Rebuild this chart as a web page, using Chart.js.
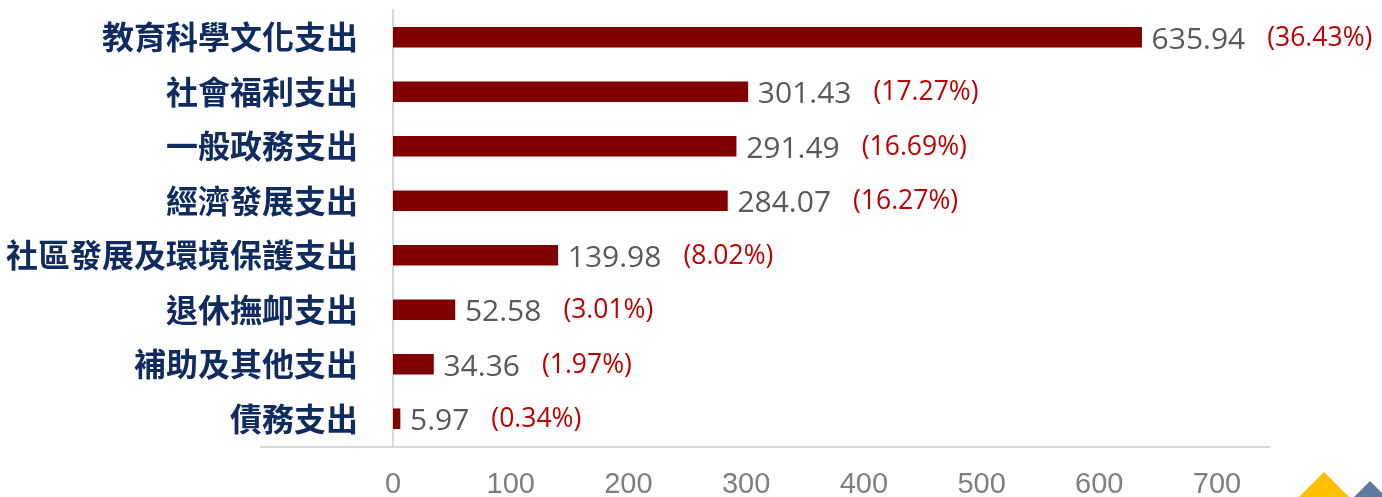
<!DOCTYPE html>
<html>
<head>
<meta charset="utf-8">
<script src="https://cdn.jsdelivr.net/npm/chart.js@4"></script>
<style>
    body { margin: 0; background: #fff; }
    canvas { display: block; }
</style>
</head>
<body>
<canvas id="diagram" width="1382" height="497"></canvas>
<script>
const categories = ["教育科學文化支出", "社會福利支出", "一般政務支出", "經濟發展支出",
    "社區發展及環境保護支出", "退休撫卹支出", "補助及其他支出", "債務支出"];
const values = [635.94, 301.43, 291.49, 284.07, 139.98, 52.58, 34.36, 5.97];
const shares = ["36.43%", "17.27%", "16.69%", "16.27%", "8.02%", "3.01%", "1.97%", "0.34%"];
const axisMax = 700;

(
    function () {
        // value + share text to the right of each bar
        const barLabels = {
            id: 'barLabels',
            afterDatasetsDraw(chart) {
                const ctx = chart.ctx;
                const meta = chart.getDatasetMeta(0);
                ctx.save();
                ctx.textBaseline = 'middle';
                ctx.textAlign = 'left';
                meta.data.forEach((bar, i) => {
                    const txt = values[i].toFixed(2);
                    ctx.font = '30px "Open Sans"';
                    ctx.fillStyle = '#595959';
                    const x = bar.x + 10;
                    const y = bar.y + 3;
                    ctx.fillText(txt, x, y);
                    const w = ctx.measureText(txt).width;
                    ctx.font = '26.5px "Open Sans"';
                    ctx.fillStyle = '#c00000';
                    ctx.fillText('(' + shares[i] + ')', x + w + 22, y - 2);
                });
                ctx.restore();
            }
        };

        // long baseline under the bars and the two corner triangles
        const decor = {
            id: 'decor',
            afterDraw(chart) {
                const ctx = chart.ctx;
                const b = chart.chartArea.bottom + 1;
                ctx.save();
                ctx.strokeStyle = '#d9d9d9';
                ctx.lineWidth = 2;
                ctx.beginPath();
                ctx.moveTo(260, b);
                ctx.lineTo(1270, b);
                ctx.stroke();

                ctx.fillStyle = '#ffc000';
                ctx.beginPath();
                ctx.moveTo(1299, 497);
                ctx.lineTo(1324, 472);
                ctx.lineTo(1349, 497);
                ctx.fill();

                ctx.fillStyle = '#5f7a9c';
                ctx.beginPath();
                ctx.moveTo(1354, 497);
                ctx.lineTo(1370, 481);
                ctx.lineTo(1386, 497);
                ctx.fill();
                ctx.restore();
            }
        };

        new Chart(
            document.getElementById("diagram"),
            {
                type: 'bar',
                data: {
                    labels: categories,
                    datasets: [
                        {
                            data: values,
                            backgroundColor: '#800000',
                            barThickness: 20
                        }
                    ]
                },
                options: {
                    indexAxis: 'y',
                    responsive: false,
                    animation: false,
                    layout: {
                        padding: { top: 10, right: 165, left: 0, bottom: 0 }
                    },
                    scales: {
                        x: {
                            min: 0,
                            max: axisMax,
                            ticks: {
                                stepSize: 100,
                                color: '#7f7f7f',
                                padding: 22,
                                font: { family: '"Liberation Sans"', size: 29 }
                            },
                            grid: { display: false, drawTicks: false },
                            border: { display: false },
                            afterFit(scale) { scale.height = 51; }
                        },
                        y: {
                            ticks: {
                                color: '#0f2b5f',
                                padding: 35,
                                font: { family: '"Noto Sans CJK TC"', size: 32, weight: 'bold' }
                            },
                            grid: { display: false, drawTicks: false },
                            border: { display: true, color: '#d9d9d9', width: 2 },
                            afterFit(scale) {
                                scale.width = 393;
                                scale.paddingTop = 0;
                                scale.paddingBottom = 0;
                            }
                        }
                    },
                    plugins: {
                        legend: { display: false },
                        tooltip: { enabled: false }
                    }
                },
                plugins: [barLabels, decor]
            }
        );
    })();
</script>
</body>
</html>
